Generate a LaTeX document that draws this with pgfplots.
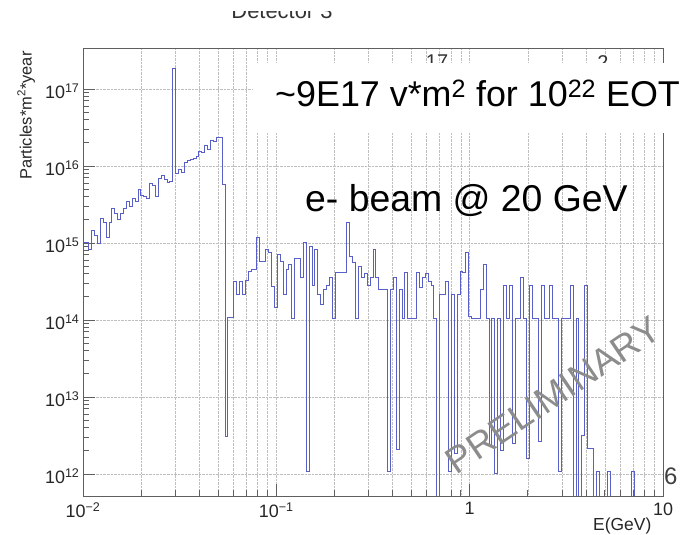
\documentclass[border=0pt]{standalone}
\usepackage{pgfplots}
\usepackage{pgfplotstable}
\pgfplotsset{compat=1.18}
\usepackage{fontspec}
\setmainfont{Liberation Sans}

\definecolor{histblue}{RGB}{88,96,200}
\definecolor{framegray}{RGB}{95,95,95}
\definecolor{prelimgray}{RGB}{140,140,140}

% Flux per bin; 200 logarithmic bins between 0.01 and 10 GeV (bin k starts at 10^(-2+0.015k)).
% Empty bins are stored as 1e11, below the visible range.
\pgfplotstableread{
bin flux
0 1.00e15
1 1.02e15
2 8.3e14
3 1.45e15
4 1.26e15
5 9.8e14
6 2.09e15
7 1.82e15
8 1.18e15
9 1.82e15
10 2.82e15
11 2.40e15
12 2.00e15
13 2.40e15
14 2.82e15
15 3.47e15
16 2.95e15
17 3.80e15
18 3.47e15
19 4.90e15
20 4.17e15
21 3.98e15
22 3.80e15
23 5.89e15
24 5.62e15
25 3.98e15
26 6.92e15
27 7.59e15
28 6.61e15
29 6.17e15
30 6.31e15
31 1.82e17
32 7.94e15
33 9.12e15
34 8.32e15
35 1.12e16
36 1.18e16
37 1.20e16
38 1.26e16
39 1.32e16
40 1.55e16
41 1.51e16
42 1.86e16
43 1.62e16
44 2.14e16
45 2.09e16
46 2.34e16
47 2.34e16
48 5.75e15
49 3.09e12
50 1.07e14
51 1.07e14
52 3.16e14
53 2.14e14
54 3.16e14
55 2.14e14
56 3.24e14
57 4.27e14
58 4.57e14
59 4.57e14
60 1.18e15
61 5.75e14
62 5.75e14
63 8.32e14
64 7.41e14
65 2.69e14
66 1.45e14
67 7.08e14
68 5.75e14
69 2.14e14
70 4.47e14
71 5.25e14
72 1.05e14
73 6.31e14
74 6.31e14
75 3.55e14
76 1.00e15
77 1.07e12
78 8.91e14
79 2.82e14
80 8.32e14
81 2.14e14
82 1.58e14
83 2.45e14
84 2.82e14
85 3.55e14
86 1.05e14
87 4.17e14
88 4.17e14
89 4.17e14
90 4.17e14
91 1.86e15
92 6.61e14
93 5.62e14
94 1.05e14
95 5.01e14
96 3.55e14
97 3.98e14
98 2.82e14
99 3.55e14
100 8.13e14
101 3.55e14
102 2.51e14
103 2.51e14
104 2.51e14
105 1.07e12
106 2.51e14
107 3.55e14
108 2.09e12
109 2.51e14
110 1.05e14
111 4.17e14
112 1.05e14
113 1.05e14
114 1.05e14
115 4.17e14
116 2.63e14
117 3.55e14
118 3.98e14
119 3.16e14
120 2.82e14
121 1.05e14
122 1e11
123 2.14e14
124 2.14e14
125 3.16e14
126 1.07e12
127 2.14e14
128 1.86e12
129 2.14e14
130 4.27e14
131 4.17e14
132 7.59e14
133 1.12e14
134 1.05e14
135 1.05e14
136 1.05e14
137 2.51e14
138 5.25e14
139 1.05e14
140 2.29e12
141 1.05e14
142 1.02e12
143 1.05e14
144 2.00e12
145 2.82e14
146 1.05e14
147 2.82e14
148 2.51e12
149 1.05e14
150 1.05e14
151 3.55e14
152 1.05e14
153 1.58e12
154 2.82e14
155 1.05e14
156 1.05e14
157 2.63e12
158 2.82e14
159 1.05e14
160 1.05e14
161 2.82e14
162 1.05e14
163 1.05e14
164 1.07e12
165 1.05e14
166 1.05e14
167 1.05e14
168 2.82e14
169 1e11
170 1.05e14
171 1e11
172 3.16e12
173 2.82e14
174 2.14e12
175 2.14e12
176 1e11
177 1.07e12
178 1e11
179 1e11
180 1e11
181 1.07e12
182 1e11
183 1e11
184 1e11
185 1e11
186 1e11
187 1e11
188 1e11
189 1.07e12
190 1e11
191 1e11
192 1e11
193 1e11
194 1e11
195 1e11
196 1e11
197 1e11
198 1e11
199 1e11
200 1e11
}\fluxtable

\begin{document}
\begin{tikzpicture}[x=1bp,y=1bp]
\begin{axis}[
  at={(83bp,39bp)}, anchor=south west,
  scale only axis, width=580bp, height=448bp,
  xmode=log, ymode=log,
  xmin=0.01, xmax=10, ymin=5.18e11, ymax=3.4e17,
  xtickten={-2,-1,0,1},
  xticklabels={10\textsuperscript{−2},10\textsuperscript{−1},1,10},
  ytickten={12,13,14,15,16,17},
  yticklabels={10\textsuperscript{12},10\textsuperscript{13},10\textsuperscript{14},10\textsuperscript{15},10\textsuperscript{16},10\textsuperscript{17}},
  tick align=inside,
  xtick pos=left, ytick pos=left,
  major tick length=12bp, minor tick length=6bp,
  axis line style={framegray, line width=0.8bp},
  every tick/.style={framegray, line width=0.8bp},
  xmajorgrids, xminorgrids, ymajorgrids,
  grid style={densely dotted, gray!50, line width=0.6bp},
  tick label style={font=\fontsize{18}{20}\selectfont, text=black!85},
  xticklabel style={yshift=-3bp},
  yticklabel style={yshift=-2bp},
  xlabel={E(GeV)},
  xlabel style={at={(axis description cs:0.986,-0.076)}, anchor=base east, font=\fontsize{17.5}{19}\selectfont, text=black!85},
  ylabel={Particles*m\textsuperscript{2}*year},
  ylabel style={at={(axis description cs:-0.098,1)}, anchor=east, rotate=0, font=\fontsize{16.5}{18}\selectfont, text=black!85},
  clip=true,
]
\addplot[const plot mark left, histblue, line width=1bp]
  table[x expr={10^(-2+0.015*\thisrow{bin})}, y=flux] {\fluxtable};
\end{axis}

% header line, partly hidden by the slide margin
\node[anchor=base, font=\fontsize{22}{24}\selectfont, text=black!80] at (282,516) {Detector 3};
\fill[white] (-5,524) rectangle (700,545);

% tops of the lower caption line, covered by the annotation box
\node[anchor=north, font=\fontsize{20}{22}\selectfont, text=black!80, inner sep=0] at (437,480) {17};
\node[anchor=north, font=\fontsize{20}{22}\selectfont, text=black!80, inner sep=0] at (603,480) {2};

% annotation box and captions
\fill[white] (253,402) rectangle (700,472);
\node[anchor=base west, inner sep=0, font=\fontsize{36}{40}\selectfont] at (275,428)
  {\textasciitilde 9E17 v*m\textsuperscript{2} for 10\textsuperscript{22} EOT};
\node[anchor=base west, inner sep=0, font=\fontsize{37.5}{40}\selectfont] at (305,323)
  {e- beam @ 20 GeV};

\node[rotate=34, text=prelimgray, font=\fontsize{37}{40}\selectfont] at (553,140) {PRELIMINARY};
\node[anchor=base west, inner sep=0, font=\fontsize{24}{26}\selectfont, text=black!75] at (664,50) {6};

\pgfresetboundingbox
\useasboundingbox (0,0) rectangle (693,535);
\end{tikzpicture}
\end{document}
